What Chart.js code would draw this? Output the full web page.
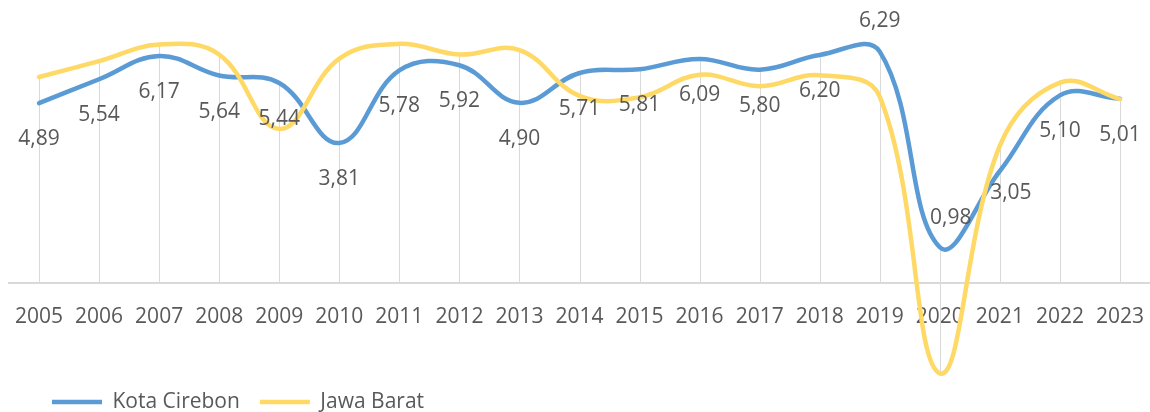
<!DOCTYPE html>
<html>
<head>
<meta charset="utf-8">
<script src="https://cdn.jsdelivr.net/npm/chart.js@4"></script>
<style>
  html, body { margin: 0; padding: 0; background: #fff; }
  #wrap { width: 1150px; height: 412px; }
</style>
</head>
<body>
<div id="wrap"><canvas id="growthChart"></canvas></div>
<script>
// years on the category axis
const years = ['2005', '2006', '2007', '2008', '2009', '2010', '2011', '2012', '2013', '2014',
  '2015', '2016', '2017', '2018', '2019', '2020', '2021', '2022', '2023'];

// economic growth (%)
const kotaCirebon = [4.89, 5.54, 6.17, 5.64, 5.44, 3.81, 5.78, 5.92, 4.90, 5.71,
  5.81, 6.09, 5.80, 6.20, 6.29, 0.98, 3.05, 5.10, 5.01];
const jawaBarat = [5.60, 6.03, 6.48, 6.21, 4.19, 6.10, 6.50, 6.21, 6.33, 5.09,
  5.05, 5.66, 5.35, 5.65, 5.07, -2.44, 3.74, 5.45, 5.00];

const textGrey = '#595959';
const lineGrey = '#d9d9d9';
const fontFamily = "'Open Sans', sans-serif";

Chart.defaults.font.family = fontFamily;
Chart.defaults.font.size = 21;
Chart.defaults.color = textGrey;

// vertical lines from the highest point of each year down to the axis
const dropLines = {
  id: 'dropLines',
  beforeDatasetsDraw(chart) {
    const ctx = chart.ctx;
    const metas = chart.getSortedVisibleDatasetMetas();
    const zero = chart.scales.y.getPixelForValue(0);
    ctx.save();
    ctx.strokeStyle = lineGrey;
    ctx.lineWidth = 1;
    years.forEach((y, i) => {
      const ys = metas.map(m => m.data[i].y);
      const x = Math.round(metas[0].data[i].x) + 0.5;
      ctx.beginPath();
      ctx.moveTo(x, Math.min(zero, ...ys));
      ctx.lineTo(x, Math.max(zero, ...ys));
      ctx.stroke();
    });
    ctx.restore();
  }
};

// value labels for Kota Cirebon, mostly placed under the point
const labelShift = { 14: [0, -31], 15: [11, -29], 16: [11, 22] };
const valueLabels = {
  id: 'valueLabels',
  afterDatasetsDraw(chart) {
    const ctx = chart.ctx;
    const meta = chart.getDatasetMeta(0);
    ctx.save();
    ctx.font = '21px ' + fontFamily;
    ctx.fillStyle = textGrey;
    ctx.textAlign = 'center';
    ctx.textBaseline = 'middle';
    meta.data.forEach((pt, i) => {
      const [dx, dy] = labelShift[i] || [0, 36];
      const txt = kotaCirebon[i].toFixed(2).replace('.', ',');
      ctx.fillText(txt, pt.x + dx, pt.y + dy);
    });
    ctx.restore();
  }
};

// push the legend in from the left edge
const legendIndent = {
  id: 'legendIndent',
  afterLayout(chart) {
    chart.legend.left += 23;
  }
};

const data = {
  labels: years,
  datasets: [
    {
      label: 'Kota Cirebon',
      data: kotaCirebon,
      borderColor: '#5b9bd5',
      backgroundColor: '#5b9bd5',
      order: 1
    },
    {
      label: 'Jawa Barat',
      data: jawaBarat,
      borderColor: '#ffd966',
      backgroundColor: '#ffd966',
      order: 0
    }
  ]
};

const config = {
  type: 'line',
  data: data,
  options: {
    responsive: true,
    maintainAspectRatio: false,
    animation: false,
    layout: {
      autoPadding: false,
      padding: { left: 9, right: 0, top: 0, bottom: -10.5 }
    },
    elements: {
      line: { borderWidth: 4.5, tension: 0.4, borderCapStyle: 'round', fill: false },
      // radius 0 hides the points; the border width feeds the legend line
      point: { radius: 0, hoverRadius: 0, borderWidth: 4.5 }
    },
    datasets: { line: { clip: false } },
    scales: {
      x: {
        position: { y: 0 },
        offset: true,
        grid: { display: false, drawTicks: false },
        border: { display: true, color: lineGrey, width: 2 },
        // tall line height drops the year labels below the axis without side padding
        ticks: { padding: 0, color: textGrey, maxRotation: 0, autoSkip: false,
          font: { size: 21, lineHeight: 3.18 } }
      },
      y: {
        display: false,
        min: -2.391,
        max: 7.69
      }
    },
    plugins: {
      tooltip: { enabled: false },
      legend: {
        position: 'bottom',
        align: 'start',
        labels: {
          usePointStyle: true,
          pointStyle: 'line',
          pointStyleWidth: 50,
          padding: 20,
          color: textGrey,
          font: { size: 21 },
          sort: (a, b) => a.datasetIndex - b.datasetIndex
        }
      }
    }
  },
  plugins: [dropLines, valueLabels, legendIndent]
};

const growthChart = new Chart(document.getElementById('growthChart'), config);
</script>
</body>
</html>
